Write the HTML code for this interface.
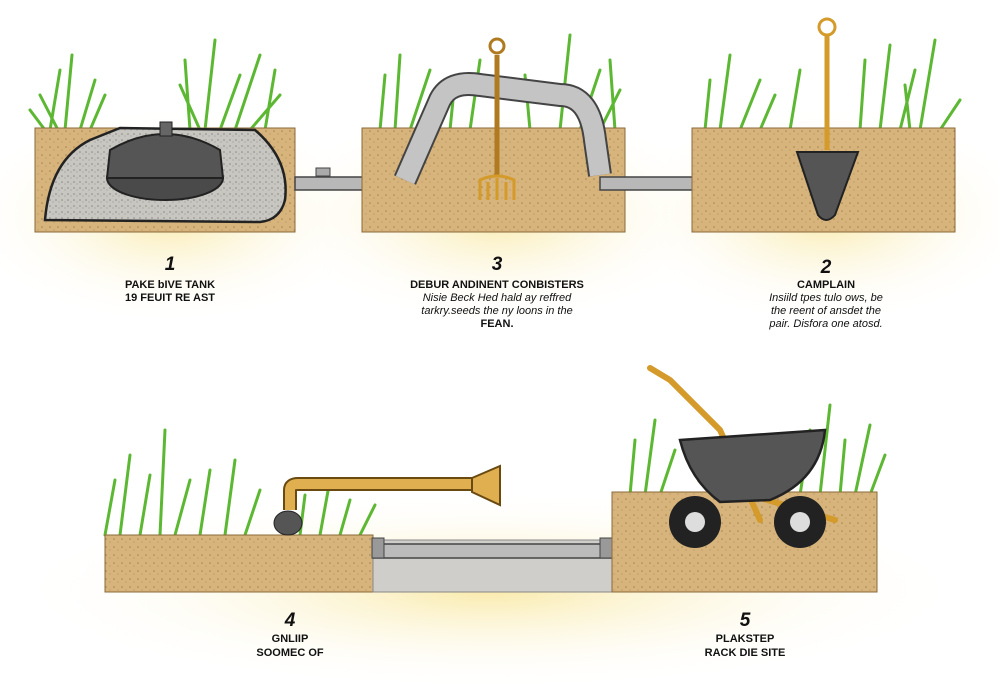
<!DOCTYPE html>
<html><head><meta charset="utf-8"><style>
body{margin:0;background:#fff}
svg{display:block}
text{font-family:"Liberation Sans",sans-serif;fill:#111;text-anchor:middle}
.n{font-size:19px;font-weight:bold;font-style:italic}
.b{font-size:11px;font-weight:bold}
.i{font-size:11px;font-style:italic}
</style></head><body>
<svg width="999" height="684" viewBox="0 0 999 684">
<defs>
<radialGradient id="g" cx="50%" cy="50%" r="50%"><stop offset="0" stop-color="#f9e9a6" stop-opacity=".95"/><stop offset="1" stop-color="#fff" stop-opacity="0"/></radialGradient>
<pattern id="dirt" width="8" height="8" patternUnits="userSpaceOnUse"><rect width="8" height="8" fill="#d6b47c"/><circle cx="2" cy="3" r=".8" fill="#a9834d"/><circle cx="6" cy="6" r=".6" fill="#b8935e"/></pattern>
<pattern id="grav" width="6" height="6" patternUnits="userSpaceOnUse"><rect width="6" height="6" fill="#c8c6c0"/><circle cx="2" cy="2" r=".8" fill="#888"/><circle cx="5" cy="4" r=".6" fill="#999"/></pattern>
</defs>
<ellipse cx="170" cy="215" rx="210" ry="110" fill="url(#g)"/>
<ellipse cx="497" cy="215" rx="230" ry="110" fill="url(#g)"/>
<ellipse cx="826" cy="215" rx="210" ry="110" fill="url(#g)"/>
<ellipse cx="490" cy="590" rx="480" ry="100" fill="url(#g)"/>
<g stroke="#5cb832" stroke-width="3" fill="none" stroke-linecap="round">
<path d="M50 130 L60 70 M65 130 L72 55 M80 130 L95 80 M58 130 L40 95 M190 130 L185 60 M205 130 L215 40 M220 130 L240 75 M235 130 L260 55 M250 130 L280 95 M265 130 L275 70 M200 130 L180 85 M90 130 L105 95 M45 130 L30 110"/>
<path d="M380 130 L385 75 M395 130 L400 55 M410 130 L430 70 M450 130 L455 80 M470 130 L480 60 M530 130 L525 75 M560 130 L570 35 M580 130 L600 70 M600 130 L620 90 M615 130 L610 60"/>
<path d="M705 130 L710 80 M720 130 L730 55 M740 130 L760 80 M790 130 L800 70 M860 130 L865 60 M880 130 L890 45 M900 130 L915 70 M920 130 L935 40 M940 130 L960 100 M910 130 L905 85 M760 130 L775 95"/>
<path d="M105 535 L115 480 M120 535 L130 455 M140 535 L150 475 M160 535 L165 430 M175 535 L190 480 M200 535 L210 470 M225 535 L235 460 M245 535 L260 490 M320 535 L330 480 M340 535 L350 500 M360 535 L375 505 M300 535 L305 495"/>
<path d="M630 495 L635 440 M645 495 L655 420 M660 495 L675 450 M800 495 L810 430 M820 495 L830 405 M840 495 L845 440 M855 495 L870 425 M870 495 L885 455"/>
</g>
<rect x="35" y="128" width="260" height="104" fill="url(#dirt)" stroke="#8a6a3a"/>
<path d="M45 220 Q50 160 90 140 L120 128 L255 130 Q290 160 285 200 Q280 220 260 222 Z" fill="url(#grav)" stroke="#222" stroke-width="2.5"/>
<ellipse cx="165" cy="178" rx="58" ry="22" fill="#4a4a4a" stroke="#222" stroke-width="2"/>
<path d="M107 178 L110 150 Q165 118 220 150 L223 178 Z" fill="#555" stroke="#222" stroke-width="2"/>
<rect x="160" y="122" width="12" height="14" fill="#666" stroke="#222"/>
<rect x="295" y="177" width="120" height="13" fill="#b8b8b8" stroke="#444" stroke-width="1.5"/>
<rect x="316" y="168" width="14" height="8" fill="#aaa" stroke="#444"/>
<rect x="362" y="128" width="263" height="104" fill="url(#dirt)" stroke="#8a6a3a"/>
<path d="M405 180 L440 100 Q450 80 480 85 L560 95 Q590 95 595 140 L600 175" fill="none" stroke="#444" stroke-width="24" stroke-linejoin="round"/>
<path d="M405 180 L440 100 Q450 80 480 85 L560 95 Q590 95 595 140 L600 175" fill="none" stroke="#c4c4c4" stroke-width="20" stroke-linejoin="round"/>
<rect x="600" y="177" width="150" height="13" fill="#b8b8b8" stroke="#444" stroke-width="1.5"/>
<path d="M740 175 L765 183 L740 192 Z" fill="#999" stroke="#333"/>
<line x1="497" y1="55" x2="497" y2="175" stroke="#b07a20" stroke-width="5"/>
<circle cx="497" cy="46" r="7" fill="none" stroke="#b07a20" stroke-width="3"/>
<path d="M480 200 L480 180 Q497 172 514 180 L514 200 M488 200 L488 182 M497 200 L497 178 M506 200 L506 182" fill="none" stroke="#d49a2a" stroke-width="3"/>
<rect x="692" y="128" width="263" height="104" fill="url(#dirt)" stroke="#8a6a3a"/>
<line x1="827" y1="35" x2="827" y2="150" stroke="#d49a2a" stroke-width="5"/>
<circle cx="827" cy="27" r="8" fill="none" stroke="#d49a2a" stroke-width="3"/>
<path d="M797 152 L858 152 L835 215 Q826 225 818 215 Z" fill="#555" stroke="#222" stroke-width="2"/>
<text x="170" y="270" class="n">1</text>
<text x="170" y="288" class="b">PAKE bIVE TANK</text>
<text x="170" y="301" class="b">19 FEUIT RE AST</text>
<text x="497" y="270" class="n">3</text>
<text x="497" y="288" class="b">DEBUR ANDINENT CONBISTERS</text>
<text x="497" y="301" class="i">Nisie Beck Hed hald ay reffred</text>
<text x="497" y="314" class="i">tarkry.seeds the ny loons in the</text>
<text x="497" y="327" class="b">FEAN.</text>
<text x="826" y="273" class="n">2</text>
<text x="826" y="288" class="b">CAMPLAIN</text>
<text x="826" y="301" class="i">Insiild tpes tulo ows, be</text>
<text x="826" y="314" class="i">the reent of ansdet the</text>
<text x="826" y="327" class="i">pair. Disfora one atosd.</text>
<rect x="105" y="535" width="268" height="57" fill="url(#dirt)" stroke="#8a6a3a"/>
<rect x="373" y="540" width="240" height="52" fill="#d0ceca" stroke="#888"/>
<rect x="373" y="544" width="240" height="14" fill="#bbb" stroke="#444" stroke-width="1.5"/>
<rect x="372" y="538" width="12" height="20" fill="#999" stroke="#444"/>
<rect x="600" y="538" width="12" height="20" fill="#999" stroke="#444"/>
<path d="M290 510 L290 490 Q290 484 298 484 L475 484" fill="none" stroke="#6a4a10" stroke-width="14"/>
<path d="M290 510 L290 490 Q290 484 298 484 L475 484" fill="none" stroke="#e0b050" stroke-width="10"/>
<path d="M472 478 L500 466 L500 505 L472 492 Z" fill="#e0b050" stroke="#6a4a10" stroke-width="2"/>
<ellipse cx="288" cy="523" rx="14" ry="12" fill="#555" stroke="#222"/>
<rect x="612" y="492" width="265" height="100" fill="url(#dirt)" stroke="#8a6a3a"/>
<path d="M650 368 L670 380 L720 430 L760 520 M700 480 L835 520" fill="none" stroke="#d49a2a" stroke-width="6" stroke-linecap="round"/>
<path d="M680 440 L825 430 Q820 480 770 500 L720 502 Q690 480 680 440 Z" fill="#555" stroke="#222" stroke-width="2.5"/>
<circle cx="695" cy="522" r="26" fill="#222"/><circle cx="695" cy="522" r="10" fill="#ddd"/>
<circle cx="800" cy="522" r="26" fill="#222"/><circle cx="800" cy="522" r="10" fill="#ddd"/>
<text x="290" y="626" class="n">4</text>
<text x="290" y="642" class="b">GNLIIP</text>
<text x="290" y="656" class="b">SOOMEC OF</text>
<text x="745" y="626" class="n">5</text>
<text x="745" y="642" class="b">PLAKSTEP</text>
<text x="745" y="656" class="b">RACK DIE SITE</text>
</svg>
</body></html>
